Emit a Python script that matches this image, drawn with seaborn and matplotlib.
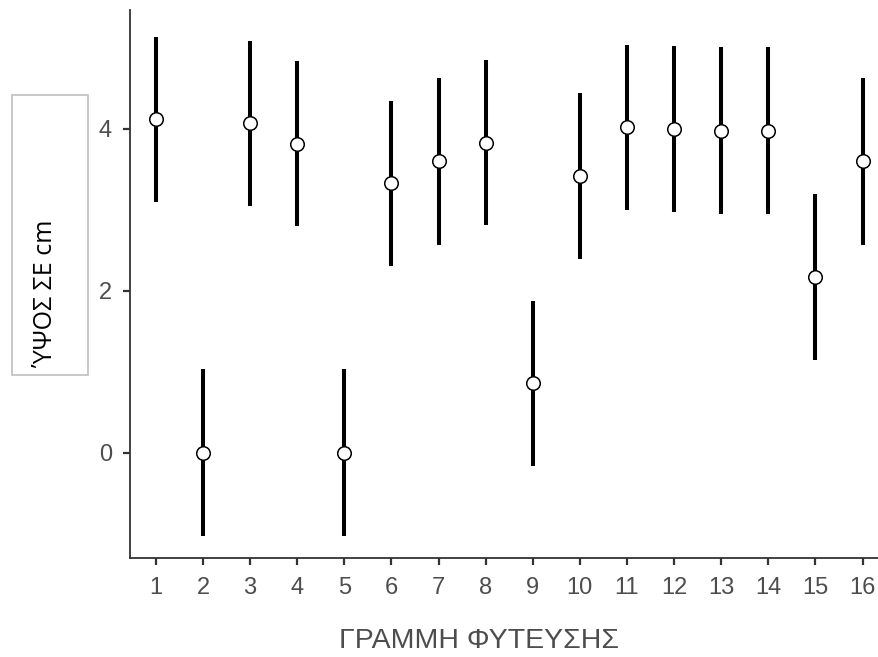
import numpy as np
import pandas as pd
import seaborn as sns
import matplotlib.pyplot as plt
from matplotlib.patches import Rectangle

# planting line, mean height and standard error
lines = list(range(1, 17))
means = [4.12, 0.0, 4.07, 3.82, 0.0, 3.33, 3.60, 3.83,
         0.86, 3.42, 4.02, 4.00, 3.98, 3.98, 2.17, 3.60]
se = [1.02, 1.03, 1.02, 1.02, 1.03, 1.02, 1.03, 1.02,
      1.02, 1.02, 1.02, 1.02, 1.03, 1.03, 1.03, 1.03]

df = pd.DataFrame({"line": lines, "mean": means, "se": se})

sns.set_theme(style="ticks")
plt.rcParams['font.family'] = ['Liberation Sans', 'DejaVu Sans']

fig = plt.figure(figsize=(8.79, 6.57), dpi=100)
ax = fig.add_axes([130/879, 99/657, 1 - 130/879, (558-10)/657])

ax.errorbar(df["line"], df["mean"], yerr=df["se"], fmt="none",
            ecolor="black", elinewidth=2.9, capsize=0, zorder=2)
sns.scatterplot(data=df, x="line", y="mean", ax=ax, s=95, color="white",
                edgecolor="black", linewidth=1.1, zorder=3, legend=False)

ax.set_xlim(0.45, 16.35)
ax.set_ylim(-1.30, 5.47)
ax.set_xticks(lines)
ax.set_xticklabels([str(v) for v in lines])
ax.set_yticks([0, 2, 4])

for s in ["top", "right"]:
    ax.spines[s].set_visible(False)
for s in ["left", "bottom"]:
    ax.spines[s].set_color("#333333")
    ax.spines[s].set_linewidth(1.3)
ax.tick_params(axis="both", colors="#333333", width=1.6, length=5,
               labelsize=17, labelcolor="#4D4D4D")
ax.tick_params(axis="x", pad=9)
ax.tick_params(axis="y", pad=8)

ax.set_xlabel("ΓΡΑΜΜΗ ΦΥΤΕΥΣΗΣ", fontsize=20.5, color="#4D4D4D")
ax.xaxis.set_label_coords((479 - 130) / 749, -(628 - 558) / 548)
ax.set_ylabel("")

# boxed y label
fig.patches.append(Rectangle((12/879, 1 - 375/657), 76/879, 280/657,
                             transform=fig.transFigure, fill=False,
                             edgecolor="#BFBFBF", linewidth=1.2))
fig.text(46/879, 1 - 293/657, "ΎΨΟΣ ΣΕ cm", rotation=90, ha="center",
         va="center", fontsize=18, color="black",
         family=["Open Sans", "DejaVu Sans"])

fig.savefig("out.png", dpi=100)
